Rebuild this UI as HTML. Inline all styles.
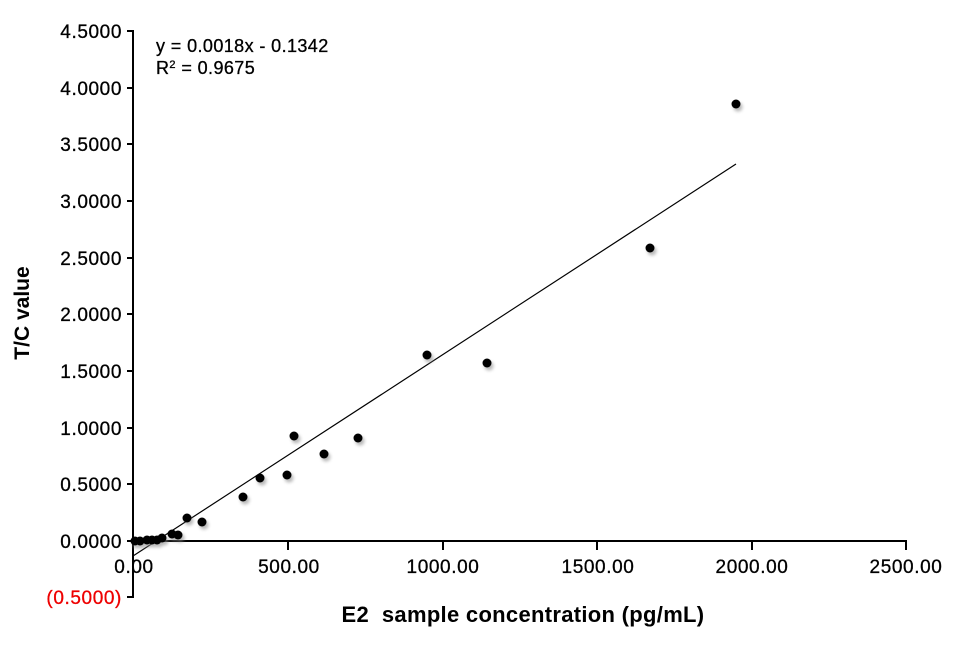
<!DOCTYPE html>
<html><head><style>
body{margin:0;background:#fff;}
svg text{font-family:"Liberation Sans","DejaVu Sans",sans-serif;}
</style></head><body>
<svg width="954" height="654" viewBox="0 0 954 654" xmlns="http://www.w3.org/2000/svg">
<defs><filter id="sh" x="-50%" y="-50%" width="200%" height="200%"><feGaussianBlur stdDeviation="1.5"/></filter></defs>
<g stroke="#000" stroke-width="2" fill="none">
<line x1="133" y1="30" x2="133" y2="598"/>
<line x1="133" y1="541" x2="907" y2="541"/>
<line x1="127" y1="31" x2="133" y2="31"/>
<line x1="127" y1="88" x2="133" y2="88"/>
<line x1="127" y1="144" x2="133" y2="144"/>
<line x1="127" y1="201" x2="133" y2="201"/>
<line x1="127" y1="258" x2="133" y2="258"/>
<line x1="127" y1="314" x2="133" y2="314"/>
<line x1="127" y1="371" x2="133" y2="371"/>
<line x1="127" y1="428" x2="133" y2="428"/>
<line x1="127" y1="484" x2="133" y2="484"/>
<line x1="127" y1="541" x2="133" y2="541"/>
<line x1="127" y1="597" x2="133" y2="597"/>
<line x1="288" y1="541" x2="288" y2="550"/>
<line x1="443" y1="541" x2="443" y2="550"/>
<line x1="597" y1="541" x2="597" y2="550"/>
<line x1="752" y1="541" x2="752" y2="550"/>
<line x1="906" y1="541" x2="906" y2="550"/>
</g>
<line x1="133" y1="556" x2="736" y2="164" stroke="#000" stroke-width="1.2"/>
<g font-size="19" text-anchor="end" fill="#000" letter-spacing="0.6" stroke="#000" stroke-width="0.3">
<text x="122" y="38">4.5000</text>
<text x="122" y="95">4.0000</text>
<text x="122" y="151">3.5000</text>
<text x="122" y="208">3.0000</text>
<text x="122" y="265">2.5000</text>
<text x="122" y="321">2.0000</text>
<text x="122" y="378">1.5000</text>
<text x="122" y="435">1.0000</text>
<text x="122" y="491">0.5000</text>
<text x="122" y="548">0.0000</text>
<text x="122" y="604" fill="#e00" stroke="#e00">(0.5000)</text>
</g>
<g font-size="19" text-anchor="middle" letter-spacing="0.6" stroke="#000" stroke-width="0.3">
<text x="134" y="573">0.00</text>
<text x="289" y="573">500.00</text>
<text x="443" y="573">1000.00</text>
<text x="598" y="573">1500.00</text>
<text x="752" y="573">2000.00</text>
<text x="906" y="573">2500.00</text>
</g>
<text x="523" y="622" font-size="22" font-weight="bold" text-anchor="middle" letter-spacing="0.3" xml:space="preserve">E2  sample concentration (pg/mL)</text>
<text transform="translate(29,313) rotate(-90)" font-size="21" font-weight="bold" text-anchor="middle">T/C value</text>
<g stroke="#000" stroke-width="0.3">
<text x="156" y="52" font-size="18" letter-spacing="0.4">y = 0.0018x - 0.1342</text>
<text x="156" y="74" font-size="18" letter-spacing="0.4">R<tspan font-size="11" dy="-6">2</tspan><tspan dy="6"> = 0.9675</tspan></text>
</g>
<g fill="#888" opacity="0.6" filter="url(#sh)" transform="translate(2,3)">
<circle cx="135" cy="541" r="4.5"/><circle cx="140" cy="541" r="4.5"/><circle cx="147" cy="540" r="4.5"/><circle cx="152" cy="540" r="4.5"/><circle cx="157" cy="540" r="4.5"/><circle cx="162" cy="538" r="4.5"/><circle cx="172" cy="534" r="4.5"/><circle cx="178" cy="535" r="4.5"/><circle cx="187" cy="518" r="4.5"/><circle cx="202" cy="522" r="4.5"/><circle cx="243" cy="497" r="4.5"/><circle cx="260" cy="478" r="4.5"/><circle cx="287" cy="475" r="4.5"/><circle cx="294" cy="436" r="4.5"/><circle cx="324" cy="454" r="4.5"/><circle cx="358" cy="438" r="4.5"/><circle cx="427" cy="355" r="4.5"/><circle cx="487" cy="363" r="4.5"/><circle cx="650" cy="248" r="4.5"/><circle cx="736" cy="104" r="4.5"/>
</g>
<g fill="#000">
<circle cx="135" cy="541" r="4.5"/><circle cx="140" cy="541" r="4.5"/><circle cx="147" cy="540" r="4.5"/><circle cx="152" cy="540" r="4.5"/><circle cx="157" cy="540" r="4.5"/><circle cx="162" cy="538" r="4.5"/><circle cx="172" cy="534" r="4.5"/><circle cx="178" cy="535" r="4.5"/><circle cx="187" cy="518" r="4.5"/><circle cx="202" cy="522" r="4.5"/><circle cx="243" cy="497" r="4.5"/><circle cx="260" cy="478" r="4.5"/><circle cx="287" cy="475" r="4.5"/><circle cx="294" cy="436" r="4.5"/><circle cx="324" cy="454" r="4.5"/><circle cx="358" cy="438" r="4.5"/><circle cx="427" cy="355" r="4.5"/><circle cx="487" cy="363" r="4.5"/><circle cx="650" cy="248" r="4.5"/><circle cx="736" cy="104" r="4.5"/>
</g>
</svg>
</body></html>
